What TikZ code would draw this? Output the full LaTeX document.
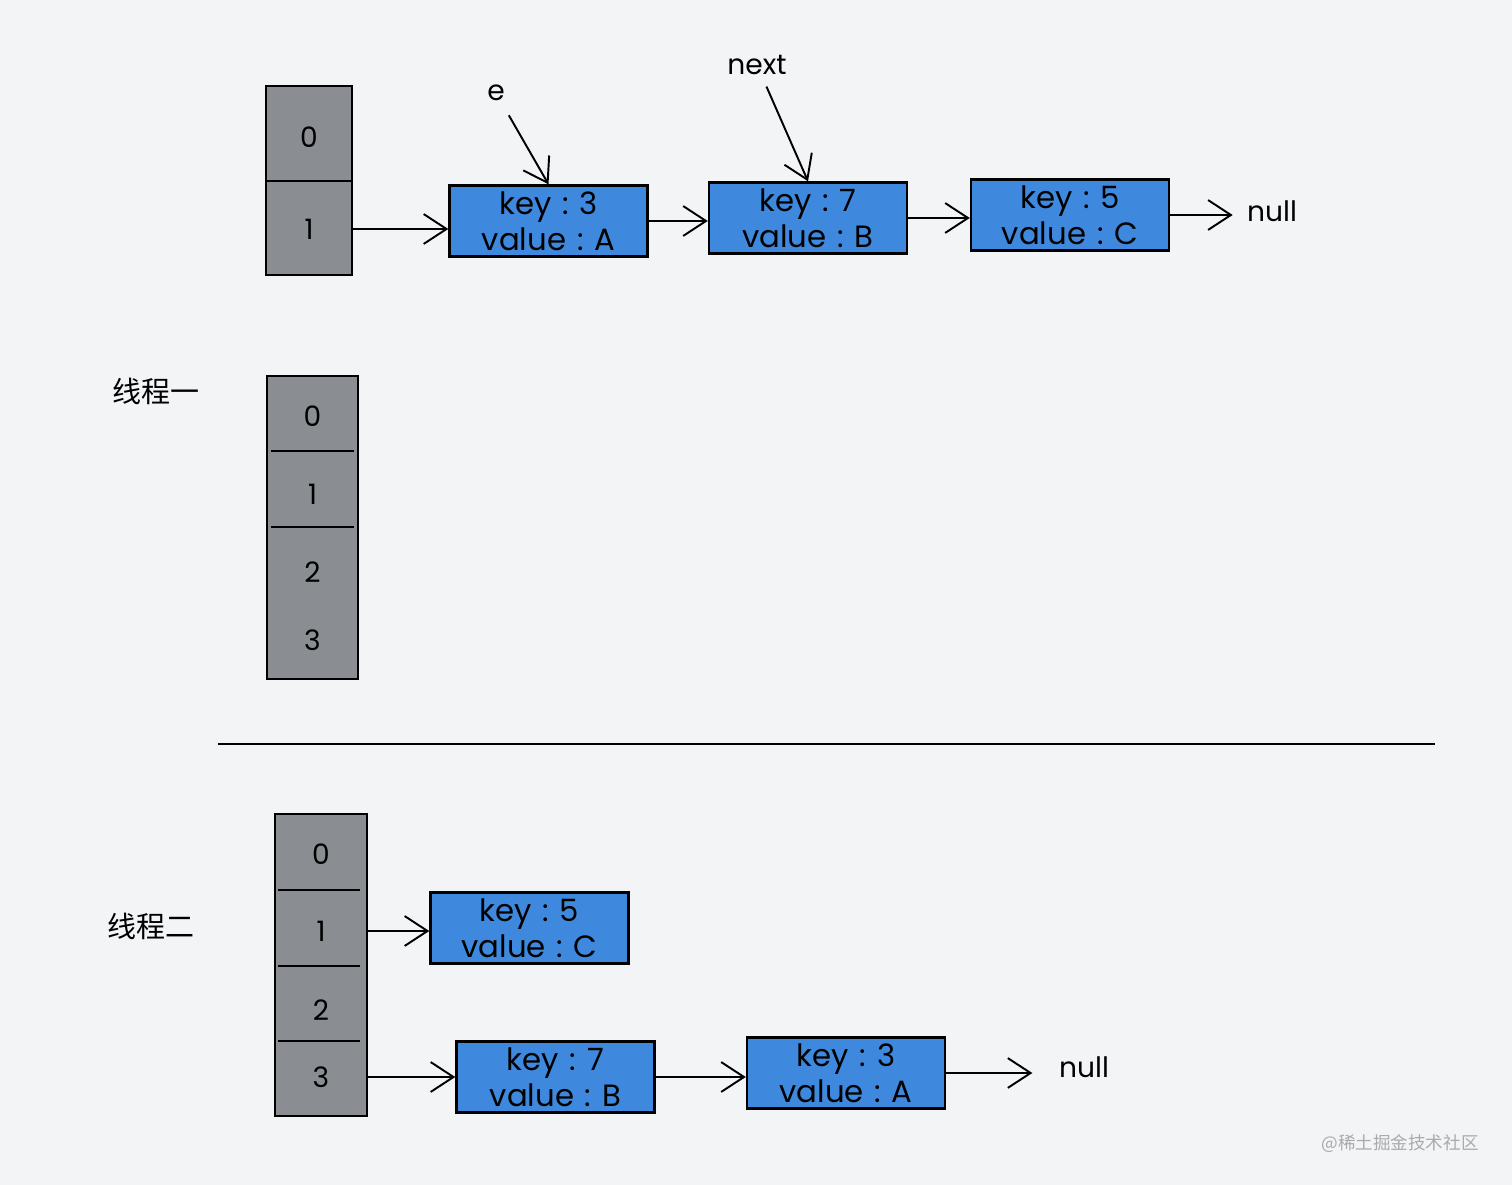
\documentclass[tikz,border=0pt]{standalone}
\usepackage{fontspec}
\setmainfont{Poppins}
\newfontfamily\cjk{Noto Sans CJK SC}
\usetikzlibrary{arrows.meta}
\definecolor{bgc}{RGB}{243,244,246}
\definecolor{cellgray}{RGB}{138,141,145}
\definecolor{nodeblue}{RGB}{62,137,222}
\definecolor{wm}{RGB}{170,170,172}
\newcommand{\kv}[2]{key\hspace{0.35em}:\hspace{0.35em}#1\\value\hspace{0.35em}:\hspace{0.35em}#2}
\tikzset{
 arrbox/.style={draw=black, line width=1.4pt, fill=cellgray, inner sep=0pt},
 celllab/.style={inner sep=0pt, font=\fontsize{16}{18}\selectfont},
 entry/.style={draw=black, line width=1.4pt, fill=nodeblue, inner sep=0pt, minimum width=3.96cm, minimum height=1.42cm, align=center, font=\fontsize{17.5}{20.5}\selectfont},
 link/.style={line width=1.1pt, -{Straight Barb[length=13pt,width=17pt,line width=1.1pt]}},
 divider/.style={line width=1.2pt},
 tlabel/.style={font=\cjk\fontsize{16.5}{18}\selectfont},
 plain/.style={font=\fontsize{16}{18}\selectfont, inner sep=1pt},
}
\begin{document}
\begin{tikzpicture}[x=0.02cm,y=-0.02cm]
\fill[bgc] (0,0) rectangle (1512,1185);
\useasboundingbox (0,0) rectangle (1512,1185);

% ---- top bucket array
\node[arrbox, minimum width=1.72cm, minimum height=3.78cm] (arrT) at (309,180.5) {};
\draw[divider] (266,181) -- (352,181);
\node[celllab, minimum width=1.72cm] (t0) at (309,137) {0};
\node[celllab, minimum width=1.72cm] (t1) at (309,229) {1};

\node[entry] (A) at (548.5,221) {\kv{3}{A}};
\node[entry] (B) at (808,218) {\kv{7}{B}};
\node[entry] (C) at (1070,215) {\kv{5}{C}};
\node[plain] (nullT) at (1272,211) {null};
\node[plain] (e) at (496,93) {e};
\node[plain] (next) at (757,65) {next};

\draw[link] (t1.east) -- (t1.east -| A.west);
\draw[link] (A.east) -- (A.east -| B.west);
\draw[link] (B.east) -- (B.east -| C.west);
\draw[link, shorten >=7pt] (C.east) -- (C.east -| nullT.west);
\draw[link, shorten <=8pt] (e) -- (A.north);
\draw[link, shorten <=6pt] (next) -- (B.north);

% ---- thread one
\node[tlabel] (th1) at (156,391) {线程一};
\node[arrbox, minimum width=1.82cm, minimum height=6.06cm] (arr1) at (312.5,527.5) {};
\draw[divider] (271,451) -- (354,451);
\draw[divider] (271,527) -- (354,527);
\node[celllab, minimum width=1.82cm] (u0) at (312.5,416) {0};
\node[celllab, minimum width=1.82cm] (u1) at (312.5,494) {1};
\node[celllab, minimum width=1.82cm] (u2) at (312.5,572) {2};
\node[celllab, minimum width=1.82cm] (u3) at (312.5,640) {3};

% ---- separator
\coordinate (sepL) at (218,744);
\coordinate (sepR) at (1435,744);
\draw[line width=1.3pt] (sepL) -- (sepR);

% ---- thread two
\node[tlabel] (th2) at (151,926) {线程二};
\node[arrbox, minimum width=1.84cm, minimum height=6.04cm] (arr2) at (321,965) {};
\draw[divider] (278,890) -- (360,890);
\draw[divider] (278,966) -- (360,966);
\draw[divider] (278,1041) -- (360,1041);
\node[celllab, minimum width=1.84cm] (v0) at (321,854) {0};
\node[celllab, minimum width=1.84cm] (v1) at (321,931) {1};
\node[celllab, minimum width=1.84cm] (v2) at (321,1010) {2};
\node[celllab, minimum width=1.84cm] (v3) at (321,1077) {3};

\node[entry] (C2) at (529.5,928) {\kv{5}{C}};
\node[entry] (B2) at (555.5,1077) {\kv{7}{B}};
\node[entry] (A2) at (846,1073) {\kv{3}{A}};
\node[plain] (nullB) at (1084,1067) {null};

\draw[link] (v1.east) -- (v1.east -| C2.west);
\draw[link] (v3.east) -- (v3.east -| B2.west);
\draw[link] (B2.east) -- (B2.east -| A2.west);
\draw[link, shorten >=14pt] (A2.east) -- (A2.east -| nullB.west);

% ---- watermark
\node[font=\cjk\fontsize{10}{12}\selectfont, text=wm] (wmark) at (1400,1144) {@稀土掘金技术社区};
\end{tikzpicture}
\end{document}
